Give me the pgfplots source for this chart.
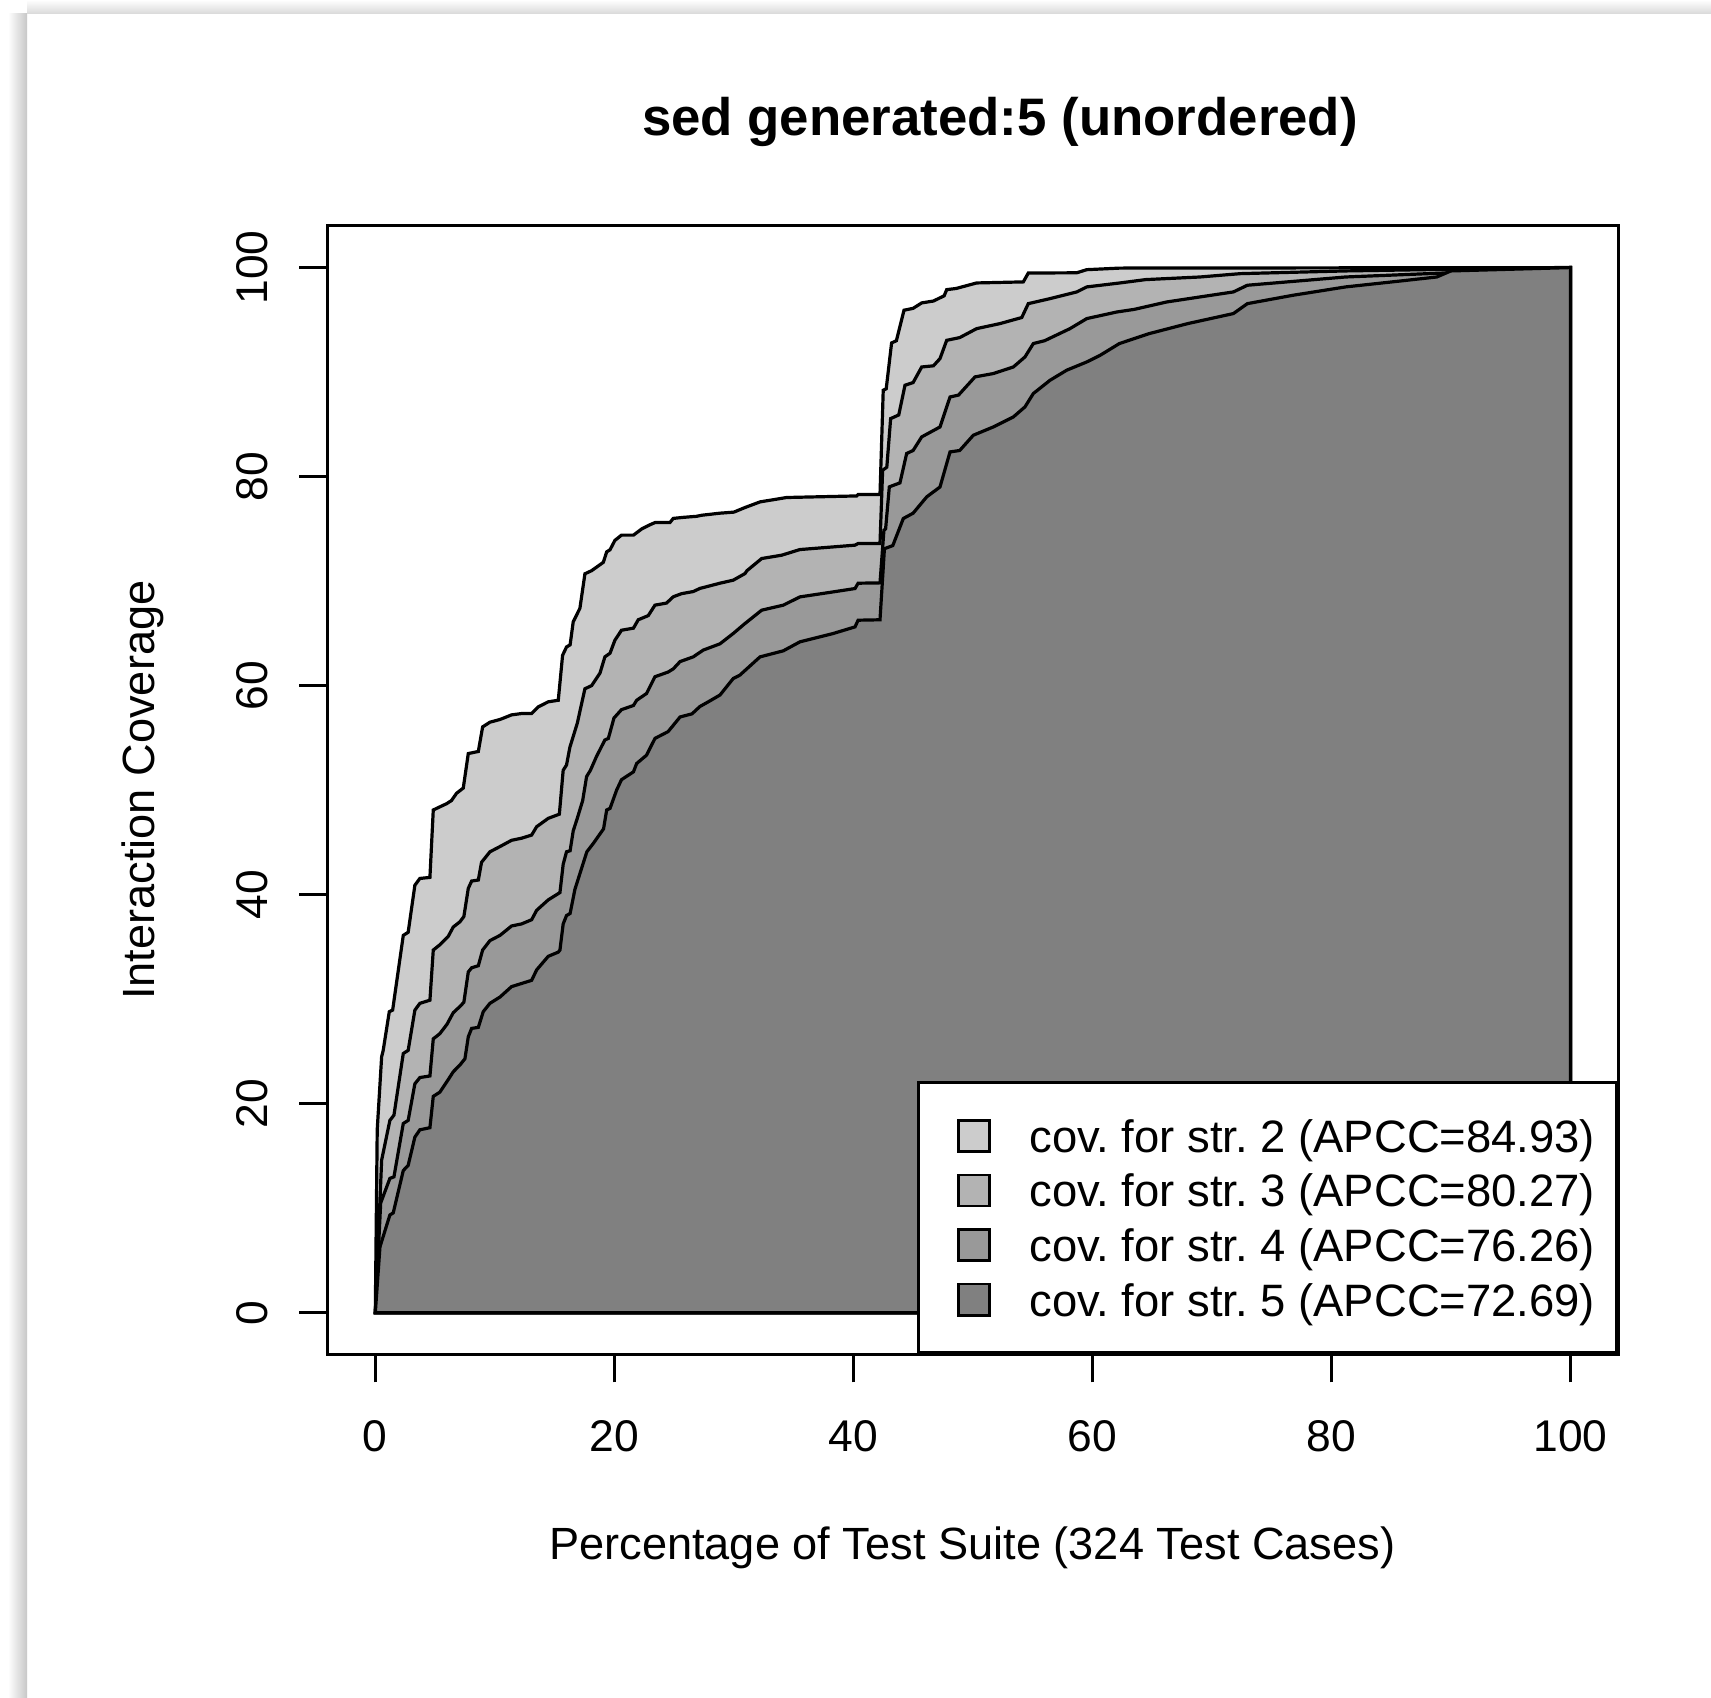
\documentclass[border=0pt]{standalone}
\usepackage{fontspec}
\setmainfont{Liberation Sans}
\usepackage{pgfplots}
\pgfplotsset{compat=1.18}
\definecolor{cA}{HTML}{CCCCCC}
\definecolor{cB}{HTML}{B3B3B3}
\definecolor{cC}{HTML}{999999}
\definecolor{cD}{HTML}{808080}
\begin{document}
\frenchspacing
\begin{tikzpicture}
\useasboundingbox (0pt,0pt) rectangle (427.75pt,424.5pt);
\fill[white] (0pt,0pt) rectangle (427.75pt,424.5pt);
\shade[left color=white, right color=black!22] (2pt,0pt) rectangle (6.75pt,421pt);
\shade[top color=white, bottom color=black!15] (6.75pt,421pt) rectangle (427.75pt,424.5pt);
\begin{axis}[
  at={(81.875pt,85.875pt)}, anchor=south west,
  scale only axis, width=322.675pt, height=282.175pt,
  xmin=-4, xmax=104, ymin=-4, ymax=104,
  axis line style={line width=0.75pt},
  xtick={0,20,40,60,80,100}, ytick={0,20,40,60,80,100},
  tick align=outside, xtick pos=bottom, ytick pos=left,
  major tick length=7pt,
  every tick/.style={black, line width=0.65pt},
  tick label style={font=\fontsize{11.1}{13.3}\selectfont},
  /pgf/number format/assume math mode=true,
  xticklabel style={anchor=base}, xticklabel shift=17.3pt,
  yticklabel style={rotate=90, anchor=base}, yticklabel shift=7.875pt,
  title={sed generated:5 (unordered)},
  every axis title/.style={at={(axis description cs:0.521,1.0804)}, anchor=base, font=\bfseries\fontsize{13.2}{16}\selectfont},
  xlabel={Percentage of Test Suite (324 Test Cases)},
  every axis x label/.style={at={(axis description cs:0.4995,-0.182)}, anchor=base, font=\fontsize{11.29}{13.5}\selectfont},
  ylabel={Interaction Coverage},
  every axis y label/.style={at={(axis description cs:-0.1344,0.5)}, rotate=90, anchor=base, font=\fontsize{11.29}{13.5}\selectfont},
  legend cell align=left,
  legend style={at={(1,0)}, anchor=south east, draw=black, line width=0.75pt, fill=white,
    inner xsep=5.4pt, inner ysep=6.5pt, row sep=0pt,
    font=\fontsize{11.35}{13.5}\selectfont,
    nodes={inner sep=0pt, text height=10.925pt, text depth=2.725pt, anchor=west},
    /tikz/every odd column/.append style={column sep=9.7pt}},
  legend image code/.code={\path (0pt,0pt); \draw[#1, draw=black, line width=0.65pt] (4.1pt,-3.9pt) rectangle (11.8pt,3.9pt);},
]
\addplot[draw=black, line width=0.8pt, fill=cA] coordinates {
(0,0) (0.16,17.5) (0.53,24.5) (0.66,25.1) (1.17,28.8) (1.45,28.95) (2.34,36.1) (2.75,36.4) (3.31,40.9) (3.73,41.55) (4.57,41.65) (4.85,48.1) (5.4,48.4) (5.96,48.7) (6.37,49.0) (6.8,49.7) (7.36,50.2) (7.78,53.5) (8.62,53.7) (8.98,56.05) (9.59,56.5) (10.43,56.76) (11.4,57.2) (12.24,57.33) (13.08,57.33) (13.64,57.97) (14.47,58.45) (15.31,58.6) (15.67,62.9) (16.0,63.7) (16.3,63.9) (16.56,66.1) (17.12,67.4) (17.54,70.7) (18.1,71.0) (19.08,71.8) (19.36,72.8) (19.64,73.0) (20.05,73.9) (20.6,74.4) (21.6,74.4) (22.3,75.0) (23.0,75.4) (23.4,75.6) (24.65,75.6) (24.93,76.0) (25.77,76.1) (26.88,76.2) (27.3,76.3) (28.84,76.5) (30.0,76.6) (30.93,77.04) (32.19,77.58) (34.42,78.0) (40.28,78.15) (40.4,78.28) (42.23,78.28) (42.5,88.26) (42.75,88.4) (43.2,92.79) (43.6,93.0) (44.24,95.92) (45.0,96.1) (45.72,96.62) (46.7,96.8) (47.6,97.3) (47.81,97.89) (48.6,98.0) (50.32,98.53) (54.22,98.63) (54.64,99.48) (58.69,99.5) (59.53,99.8) (62.3,99.95) (100,100)
} \closedcycle;
\addlegendentry{cov. for str. 2 (APCC=84.93)}
\addplot[draw=black, line width=0.8pt, fill=cB] coordinates {
(0,0) (0.53,14.6) (1.22,18.4) (1.56,18.9) (2.34,24.8) (2.75,25.1) (3.31,28.95) (3.73,29.6) (4.57,29.9) (4.85,34.7) (5.4,35.2) (6.1,36.0) (6.52,36.9) (7.08,37.4) (7.41,37.9) (7.78,40.6) (8.06,41.3) (8.62,41.4) (8.89,43.1) (9.59,44.1) (10.43,44.6) (11.4,45.2) (12.24,45.4) (13.08,45.7) (13.5,46.5) (14.47,47.3) (15.4,47.7) (15.72,51.9) (16.0,52.4) (16.28,54.1) (16.9,56.4) (17.54,59.7) (18.1,60.0) (18.8,61.2) (19.21,62.75) (19.64,63.1) (20.05,64.35) (20.6,65.3) (21.6,65.5) (22.0,66.3) (22.84,66.7) (23.4,67.7) (24.37,67.9) (24.93,68.5) (25.63,68.8) (26.6,69.0) (27.16,69.3) (28.84,69.8) (29.95,70.09) (30.93,70.72) (31.1,71.0) (32.33,72.16) (34.0,72.48) (35.53,73.02) (40.14,73.44) (40.4,73.6) (42.23,73.6) (42.45,80.61) (42.8,80.9) (43.12,85.55) (43.8,85.9) (44.32,88.74) (45.0,89.0) (45.72,90.49) (46.7,90.6) (47.25,91.29) (47.81,93.04) (48.9,93.3) (50.32,94.16) (52.27,94.64) (54.09,95.22) (54.64,96.55) (56.46,97.03) (58.69,97.67) (59.53,98.15) (62.31,98.53) (64.46,98.85) (69.0,99.1) (72.38,99.42) (81.19,99.68) (90.0,99.84) (100,100)
} \closedcycle;
\addlegendentry{cov. for str. 3 (APCC=80.27)}
\addplot[draw=black, line width=0.8pt, fill=cC] coordinates {
(0,0) (0.45,10.5) (1.22,12.85) (1.56,13.0) (2.34,18.1) (2.75,18.4) (3.31,21.9) (3.73,22.5) (4.57,22.65) (4.85,26.2) (5.4,26.7) (6.0,27.6) (6.52,28.7) (7.08,29.3) (7.41,29.7) (7.78,32.6) (8.06,33.0) (8.62,33.2) (8.98,34.7) (9.59,35.6) (10.43,36.1) (11.4,37.0) (12.24,37.2) (13.08,37.6) (13.5,38.5) (14.47,39.5) (15.31,40.1) (15.45,40.2) (15.72,42.9) (16.0,44.1) (16.3,44.2) (16.56,46.1) (16.9,47.3) (17.35,49.0) (17.68,51.3) (18.0,51.9) (18.5,53.2) (19.21,54.8) (19.5,54.95) (19.97,56.9) (20.6,57.7) (21.6,58.1) (21.87,58.6) (22.7,59.25) (23.4,60.85) (24.5,61.3) (24.93,61.6) (25.5,62.3) (26.6,62.75) (27.44,63.4) (28.84,64.0) (29.95,64.99) (30.93,65.94) (32.33,67.22) (34.14,67.7) (35.53,68.49) (38.32,68.97) (40.14,69.29) (40.4,69.8) (42.23,69.83) (42.56,74.87) (42.7,75.0) (43.01,79.02) (43.9,79.4) (44.46,82.21) (45.0,82.5) (45.72,83.8) (47.25,84.75) (48.09,87.62) (48.8,87.8) (50.18,89.54) (51.71,89.86) (53.39,90.49) (54.36,91.45) (55.06,92.73) (56.0,93.0) (58.13,94.16) (59.53,95.12) (62.04,95.75) (63.5,96.0) (66.22,96.71) (69.0,97.19) (71.8,97.67) (72.97,98.31) (81.19,99.1) (89.4,99.48) (94.4,99.9) (100,100)
} \closedcycle;
\addlegendentry{cov. for str. 4 (APCC=76.26)}
\addplot[draw=black, line width=0.8pt, fill=cD] coordinates {
(0,0) (0.39,6.3) (1.22,9.35) (1.5,9.55) (2.34,13.6) (2.75,14.1) (3.31,16.8) (3.73,17.5) (4.57,17.7) (4.85,20.7) (5.4,21.1) (6.1,22.3) (6.52,23.05) (7.08,23.7) (7.5,24.3) (7.78,26.4) (8.06,27.2) (8.62,27.3) (9.03,28.8) (9.59,29.6) (10.43,30.2) (11.4,31.2) (12.24,31.5) (13.08,31.8) (13.5,32.8) (14.47,34.1) (15.31,34.5) (15.45,34.7) (15.72,37.2) (16.0,38.0) (16.3,38.2) (16.7,40.5) (17.7,44.1) (18.24,44.9) (19.1,46.3) (19.36,48.1) (19.64,48.25) (20.19,50.0) (20.6,51.0) (21.6,51.75) (21.87,52.55) (22.7,53.35) (23.4,54.95) (24.5,55.6) (24.93,56.2) (25.5,57.0) (26.5,57.3) (27.16,58.0) (27.86,58.45) (28.84,59.1) (29.95,60.68) (30.5,61.0) (32.19,62.75) (34.14,63.33) (35.53,64.19) (38.32,64.99) (40.14,65.62) (40.4,66.26) (42.23,66.3) (42.6,73.1) (43.3,73.4) (44.18,75.99) (45.0,76.5) (46.14,78.06) (47.25,79.01) (48.09,82.36) (48.9,82.5) (50.04,83.96) (51.71,84.75) (53.39,85.71) (54.36,86.67) (55.06,87.95) (56.46,89.22) (57.85,90.18) (59.53,90.97) (60.64,91.6) (62.26,92.73) (64.75,93.68) (67.98,94.64) (71.8,95.6) (72.97,96.55) (76.78,97.35) (81.19,98.15) (85.0,98.62) (88.82,99.1) (90.0,99.68) (100,100)
} \closedcycle;
\addlegendentry{cov. for str. 5 (APCC=72.69)}
\end{axis}
\end{tikzpicture}
\end{document}
